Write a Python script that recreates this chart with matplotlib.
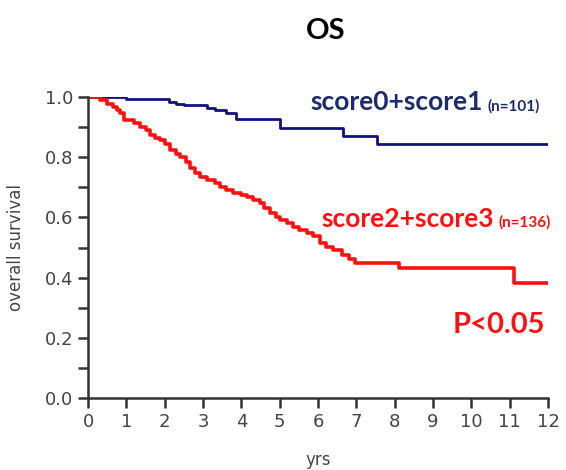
import matplotlib
matplotlib.use("Agg")
import matplotlib.pyplot as plt
from matplotlib.ticker import MultipleLocator

# Kaplan-Meier step values (years, survival)
low_t = [0, 1.0, 2.1, 2.3, 2.5, 3.1, 3.3, 3.6, 3.85, 5.0, 6.66, 7.55, 12.0]
low_s = [1.0, 0.993, 0.985, 0.978, 0.972, 0.963, 0.956, 0.947, 0.927, 0.898, 0.870, 0.844, 0.844]

high_t = [0, 0.3, 0.5, 0.65, 0.75, 0.84, 0.95, 1.2, 1.35, 1.5, 1.62, 1.75, 1.88, 2.0, 2.14,
          2.3, 2.4, 2.55, 2.66, 2.8, 2.92, 3.1, 3.3, 3.45, 3.6, 3.79, 4.0, 4.14, 4.3, 4.49,
          4.6, 4.75, 4.9, 5.0, 5.2, 5.36, 5.5, 5.7, 5.88, 6.05, 6.2, 6.4, 6.62, 6.8, 6.97,
          8.1, 11.1, 12.0]
high_s = [1.0, 0.99, 0.978, 0.968, 0.957, 0.947, 0.925, 0.913, 0.9, 0.89, 0.874, 0.865,
          0.857, 0.845, 0.824, 0.812, 0.802, 0.785, 0.764, 0.748, 0.735, 0.724, 0.713,
          0.702, 0.69, 0.68, 0.674, 0.669, 0.658, 0.647, 0.63, 0.614, 0.602, 0.591, 0.58,
          0.569, 0.558, 0.548, 0.537, 0.515, 0.503, 0.492, 0.475, 0.462, 0.45, 0.432,
          0.382, 0.382]

x_ticks = list(range(0, 13))
y_ticks = [0.0, 0.2, 0.4, 0.6, 0.8, 1.0]

fig = plt.figure(figsize=(5.66, 4.7), dpi=100)
ax = fig.add_axes([0.1555, 0.1532, 0.8127, 0.6404])

ax.plot(low_t, low_s, drawstyle="steps-post", color="#12127f", lw=2.0)
ax.plot(high_t, high_s, drawstyle="steps-post", color="#ff1010", lw=2.6)

ax.set_xlim(0, 12)
ax.set_ylim(0, 1.0)
ax.set_xticks(x_ticks)
ax.set_yticks(y_ticks)
ax.set_yticklabels([f"{v:.1f}" for v in y_ticks])
ax.yaxis.set_minor_locator(MultipleLocator(0.1))

for side in ["top", "right"]:
    ax.spines[side].set_visible(False)
for side in ["left", "bottom"]:
    ax.spines[side].set_linewidth(1.8)
    ax.spines[side].set_color("#333333")

ax.tick_params(which="both", direction="out", width=1.8, color="#333333",
               labelsize=13, labelcolor="#444444")
ax.tick_params(which="major", length=7)
ax.tick_params(which="minor", length=7)
ax.tick_params(axis="x", pad=4)

ax.set_xlabel("yrs", fontsize=12, color="#444444", labelpad=14)
ax.set_ylabel("overall survival", fontsize=12, color="#444444", labelpad=14)

bold = dict(family="Lato", weight="bold")
fig.text(0.575, 0.935, "OS", fontsize=21, ha="center", va="center", color="black", **bold)


def label_with_n(x, y, main, small, color):
    t = fig.text(x, y, main, fontsize=19, color=color, va="baseline", **bold)
    fig.canvas.draw()
    bb = t.get_window_extent()
    fig.text((bb.x1 + 5) / fig.bbox.width, y, small, fontsize=11, color=color,
             va="baseline", **bold)


label_with_n(0.548, 0.765, "score0+score1", "(n=101)", "#1c2a6e")
label_with_n(0.568, 0.517, "score2+score3", "(n=136)", "#ff1010")

fig.text(0.963, 0.308, "P<0.05", fontsize=21, color="#ff1010", ha="right", va="center", **bold)

fig.savefig("out.png", dpi=100)
